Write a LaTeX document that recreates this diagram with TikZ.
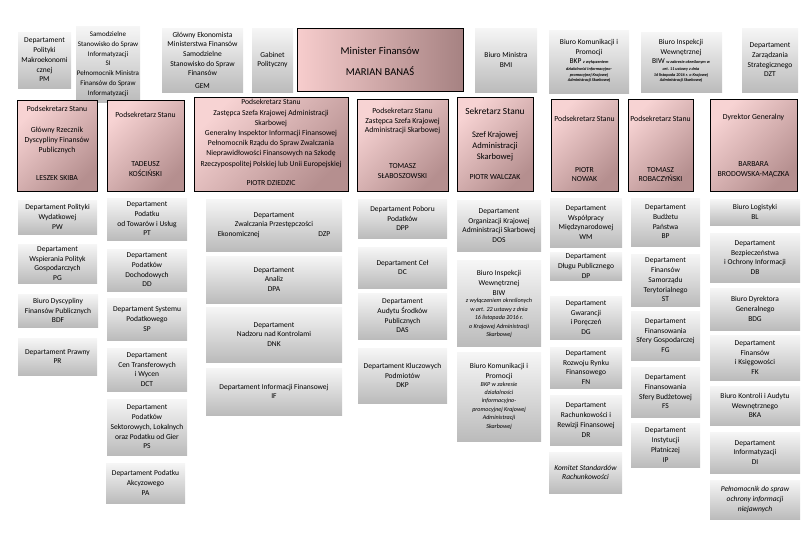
\documentclass[tikz,border=0pt]{standalone}
\usepackage{fontspec}
\setmainfont{Carlito}
\usetikzlibrary{fit}
\definecolor{gTop}{HTML}{F6F6F6}
\definecolor{gBot}{HTML}{BBBBBB}
\definecolor{pL}{HTML}{F7D3D3}
\definecolor{pD}{HTML}{B58F8F}
\definecolor{mL}{HTML}{F7CDCD}
\definecolor{mD}{HTML}{A68282}
\newcommand\fsz{\fontsize{6.4}{8.3}\selectfont}
\newcommand\fsr{\fontsize{6.6}{8.5}\selectfont}
\newcommand\tny{\fontsize{3.6}{4.7}\selectfont\itshape\bfseries}
\newcommand\sit{\fontsize{5.2}{7.2}\selectfont\itshape}
\begin{document}
\begin{tikzpicture}[x=0.3mm,y=-0.3mm,
 gbox/.style={rectangle, inner sep=0pt, top color=gTop, bottom color=gBot},
 lbl/.style={inner sep=0pt, align=center, font=\fsz},
 ilbl/.style={inner sep=0pt, align=center, font=\fsz\itshape},
 pbox/.style={rectangle, inner sep=0pt, draw=black, line width=0.6pt, top color=pL, bottom color=pD, shading angle=45},
 mbox/.style={rectangle, inner sep=0pt, draw=black, line width=0.6pt, left color=mL, right color=mD},
 txt/.style={inner sep=0pt, align=center, font=\fsr},
 ttxt/.style={inner sep=0pt, align=center, font=\tny},
 stxt/.style={inner sep=0pt, align=center, font=\sit},
]
\useasboundingbox (0,0) rectangle (810,540);

% ---------- top row ----------
\node[gbox, fit={(18,32)(71,88)}, label={[lbl]center:{Departament\\Polityki\\Makroekonomi\\cznej\\PM}}] (dpm) {};
\node[gbox, fit={(76,26)(140,102)}, label={[lbl, font=\fontsize{6}{8.3}\selectfont]center:{Samodzielne\\Stanowisko do Spraw\\Informatyzacji\\SI\\Pełnomocnik Ministra\\Finansów do Spraw\\Informatyzacji}}] (si) {};
\node[gbox, fit={(162,28)(243,92)}, label={[lbl]center:{Główny Ekonomista\\Ministerstwa Finansów\\Samodzielne\\Stanowisko do Spraw\\Finansów\\[2pt]GEM}}] (gem) {};
\node[gbox, fit={(252,28)(293,92)}, label={[lbl]center:{Gabinet\\Polityczny}}] (gp) {};
\node[mbox, fit={(297,28)(463,91)}] (min) {};
\node[txt, font=\fontsize{9}{10}\selectfont] (minA) at (380,51) {Minister Finansów};
\node[txt, font=\fontsize{9}{10}\selectfont] (minB) at (380,71) {MARIAN BANAŚ};
\node[gbox, fit={(475,28)(537,92)}, label={[lbl]center:{Biuro Ministra\\BMI}}] (bmi) {};
\node[gbox, fit={(549,30)(629,93)}] (bkp) {};
\node[txt, font=\fsz] (bkpA) at (589,52) {Biuro Komunikacji i\\Promocji\\BKP {\tny z wyłączeniem}};
\node[ttxt] (bkpB) at (589,75) {działalności informacyjno-\\promocyjnej Krajowej\\Administracji Skarbowej};
\node[gbox, fit={(641,32)(722,92)}] (biw) {};
\node[txt, font=\fsz] (biwA) at (681,52) {Biuro Inspekcji\\Wewnętrznej\\BIW {\tny w zakresie określonym w}};
\node[ttxt] (biwB) at (681,75) {art. 11 ustawy z dnia\\16 listopada 2016 r. o Krajowej\\Administracji Skarbowej};
\node[gbox, fit={(742,28)(798,92)}, label={[lbl]center:{Departament\\Zarządzania\\Strategicznego\\DZT}}] (dzt) {};

% ---------- second row ----------
\node[pbox, fit={(17,100)(97,191)}] (r1) {};
\node[txt] (r1a) at (57,109) {Podsekretarz Stanu};
\node[txt] (r1b) at (57,140) {Główny Rzecznik\\Dyscypliny Finansów\\Publicznych};
\node[txt] (r1c) at (57,178) {LESZEK SKIBA};

\node[pbox, fit={(107,100)(184,191)}] (r2) {};
\node[txt] (r2a) at (145.5,115) {Podsekretarz Stanu};
\node[txt] (r2b) at (145.5,169) {TADEUSZ\\KOŚCIŃSKI};

\node[pbox, fit={(194,97)(348,191)}] (r3) {};
\node[txt, font=\fontsize{6.5}{8.7}\selectfont] (r3a) at (271,133.5) {Podsekretarz Stanu\\Zastępca Szefa Krajowej Administracji\\Skarbowej\\Generalny Inspektor Informacji Finansowej\\Pełnomocnik Rządu do Spraw Zwalczania\\Nieprawidłowości Finansowych na Szkodę\\Rzeczypospolitej Polskiej lub Unii Europejskiej};
\node[txt] (r3b) at (271,183) {PIOTR DZIEDZIC};

\node[pbox, fit={(357,99)(448,191)}] (r4) {};
\node[txt] (r4a) at (402.5,121) {Podsekretarz Stanu\\Zastępca Szefa Krajowej\\Administracji Skarbowej};
\node[txt] (r4b) at (402.5,171) {TOMASZ\\SŁABOSZOWSKI};

\node[pbox, fit={(457,97)(533,191)}] (r5) {};
\node[txt, font=\fontsize{8}{9}\selectfont] (r5a) at (495,111) {Sekretarz Stanu};
\node[txt, font=\fontsize{7.3}{9.4}\selectfont] (r5b) at (495,146) {Szef Krajowej\\Administracji\\Skarbowej};
\node[txt] (r5c) at (495,177) {PIOTR WALCZAK};

\node[pbox, fit={(551,99)(618,191)}] (r6) {};
\node[txt] (r6a) at (584.5,119) {Podsekretarz Stanu};
\node[txt] (r6b) at (584.5,174.5) {PIOTR\\NOWAK};

\node[pbox, fit={(628,99)(693,191)}] (r7) {};
\node[txt] (r7a) at (660.5,119) {Podsekretarz Stanu};
\node[txt] (r7b) at (660.5,174.5) {TOMASZ\\ROBACZYŃSKI};

\node[pbox, fit={(710,99)(797,191)}] (r8) {};
\node[txt] (r8a) at (753.5,117) {Dyrektor Generalny};
\node[txt] (r8b) at (753.5,170) {BARBARA\\BRODOWSKA-MĄCZKA};

% ---------- column 1 ----------
\node[gbox, fit={(18,200)(97,234)}, label={[lbl]center:{Departament Polityki\\Wydatkowej\\PW}}] (pw) {};
\node[gbox, fit={(18,244)(97,283)}, label={[lbl]center:{Departament\\Wspierania Polityk\\Gospodarczych\\PG}}] (pg) {};
\node[gbox, fit={(18,294)(98,327)}, label={[lbl]center:{Biuro Dyscypliny\\Finansów Publicznych\\BDF}}] (bdf) {};
\node[gbox, fit={(18,338)(97,375)}, label={[lbl]center:{Departament Prawny\\PR}}] (pr) {};

% ---------- column 2 ----------
\node[gbox, fit={(107,198)(187,240)}, label={[lbl]center:{Departament\\Podatku\\od Towarów i Usług\\PT}}] (pt) {};
\node[gbox, fit={(107,249)(187,291)}, label={[lbl]center:{Departament\\Podatków\\Dochodowych\\DD}}] (dd) {};
\node[gbox, fit={(107,298)(187,340)}, label={[lbl]center:{Departament Systemu\\Podatkowego\\SP}}] (sp) {};
\node[gbox, fit={(107,348)(187,391)}, label={[lbl]center:{Departament\\Cen Transferowych\\i Wycen\\DCT}}] (dct) {};
\node[gbox, fit={(107,399)(187,455)}, label={[lbl]center:{Departament\\Podatków\\Sektorowych, Lokalnych\\oraz Podatku od Gier\\PS}}] (ps) {};
\node[gbox, fit={(106,463)(185,503)}, label={[lbl]center:{Departament Podatku\\Akcyzowego\\PA}}] (pa) {};

% ---------- column 3 ----------
\node[gbox, fit={(206,199)(342,251)}, label={[lbl]center:{Departament\\Zwalczania Przestępczości\\Ekonomicznej\hspace{50pt}DZP}}] (dzp) {};
\node[gbox, fit={(206,256)(342,303)}, label={[lbl]center:{Departament\\Analiz\\DPA}}] (dpa) {};
\node[gbox, fit={(206,307)(342,362)}, label={[lbl]center:{Departament\\Nadzoru nad Kontrolami\\DNK}}] (dnk) {};
\node[gbox, fit={(206,368)(342,415)}, label={[lbl]center:{Departament Informacji Finansowej\\IF}}] (if) {};

% ---------- column 4 ----------
\node[gbox, fit={(358,199)(447,238)}, label={[lbl]center:{Departament Poboru\\Podatków\\DPP}}] (dpp) {};
\node[gbox, fit={(358,247)(447,288)}, label={[lbl]center:{Departament Ceł\\DC}}] (dc) {};
\node[gbox, fit={(358,293)(447,339)}, label={[lbl]center:{Departament\\Audytu Środków\\Publicznych\\DAS}}] (das) {};
\node[gbox, fit={(358,348)(447,403)}, label={[lbl]center:{Departament Kluczowych\\Podmiotów\\DKP}}] (dkp) {};

% ---------- column 5 ----------
\node[gbox, fit={(457,200)(541,251)}, label={[lbl]center:{Departament\\Organizacji Krajowej\\Administracji Skarbowej\\DOS}}] (dos) {};
\node[gbox, fit={(457,260)(541,346)}] (biw2) {};
\node[txt, font=\fsz] (biw2a) at (499,283) {Biuro Inspekcji\\Wewnętrznej\\BIW};
\node[stxt] (biw2b) at (499,318) {z wyłączeniem określonych\\w art. 22 ustawy z dnia\\16 listopada 2016 r.\\o Krajowej Administracji\\Skarbowej};
\node[gbox, fit={(457,352)(541,441)}] (bkp2) {};
\node[txt, font=\fsz] (bkp2a) at (499,371.5) {Biuro Komunikacji i\\Promocji};
\node[stxt] (bkp2b) at (499,405.5) {BKP w zakresie\\działalności\\informacyjno-\\promocyjnej Krajowej\\Administracji\\Skarbowej};

% ---------- column 6 ----------
\node[gbox, fit={(550,198)(622,247)}, label={[lbl]center:{Departament\\Współpracy\\Międzynarodowej\\WM}}] (wm) {};
\node[gbox, fit={(550,252)(622,280)}, label={[lbl]center:{Departament\\Długu Publicznego\\DP}}] (dp) {};
\node[gbox, fit={(550,296)(622,339)}, label={[lbl]center:{Departament\\Gwarancji\\i Poręczeń\\DG}}] (dg) {};
\node[gbox, fit={(550,347)(622,388)}, label={[lbl]center:{Departament\\Rozwoju Rynku\\Finansowego\\FN}}] (fn) {};
\node[gbox, fit={(550,395)(622,445)}, label={[lbl]center:{Departament\\Rachunkowości i\\Rewizji Finansowej\\DR}}] (dr) {};
\node[gbox, fit={(549,452)(622,493)}, label={[ilbl]center:{Komitet Standardów\\Rachunkowości}}] (ksr) {};

% ---------- column 7 ----------
\node[gbox, fit={(631,198)(700,246)}, label={[lbl]center:{Departament\\Budżetu\\Państwa\\BP}}] (bp) {};
\node[gbox, fit={(631,254)(700,306)}, label={[lbl]center:{Departament\\Finansów\\Samorządu\\Terytorialnego\\ST}}] (st) {};
\node[gbox, fit={(631,311)(700,360)}, label={[lbl]center:{Departament\\Finansowania\\Sfery Gospodarczej\\FG}}] (fg) {};
\node[gbox, fit={(631,367)(700,417)}, label={[lbl]center:{Departament\\Finansowania\\Sfery Budżetowej\\FS}}] (fs) {};
\node[gbox, fit={(631,423)(700,467)}, label={[lbl]center:{Departament\\Instytucji\\Płatniczej\\IP}}] (ip) {};

% ---------- column 8 ----------
\node[gbox, fit={(710,199)(800,225)}, label={[lbl]center:{Biuro Logistyki\\BL}}] (bl) {};
\node[gbox, fit={(710,233)(800,282)}, label={[lbl]center:{Departament\\Bezpieczeństwa\\i Ochrony Informacji\\DB}}] (db) {};
\node[gbox, fit={(710,288)(800,330)}, label={[lbl]center:{Biuro Dyrektora\\Generalnego\\BDG}}] (bdg) {};
\node[gbox, fit={(710,335)(800,380)}, label={[lbl]center:{Departament\\Finansów\\i Księgowości\\FK}}] (fk) {};
\node[gbox, fit={(710,386)(800,425)}, label={[lbl]center:{Biuro Kontroli i Audytu\\Wewnętrznego\\BKA}}] (bka) {};
\node[gbox, fit={(710,432)(800,473)}, label={[lbl]center:{Departament\\Informatyzacji\\DI}}] (di) {};
\node[gbox, fit={(710,480)(800,519)}, label={[ilbl]center:{Pełnomocnik do spraw\\ochrony informacji\\niejawnych}}] (pon) {};
\end{tikzpicture}
\end{document}
